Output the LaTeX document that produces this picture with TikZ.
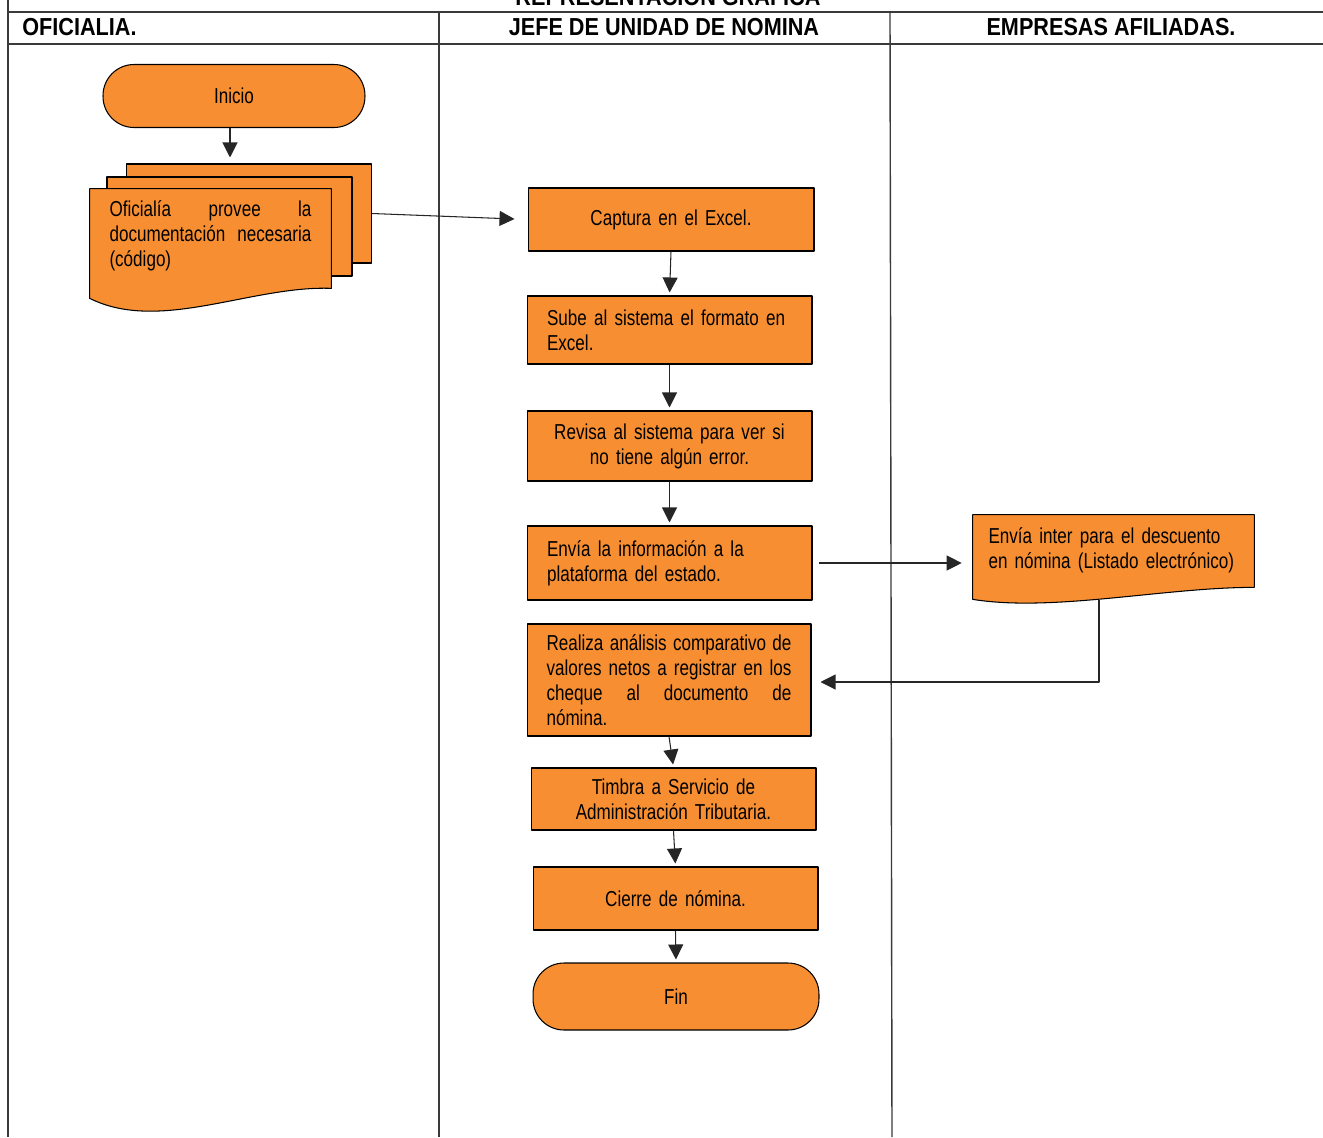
\documentclass[tikz,border=0pt]{standalone}
\usepackage{fontspec}
\setmainfont[FakeStretch=0.79]{Liberation Sans}
\newfontfamily\headfont[FakeStretch=0.88]{Liberation Sans}
\usetikzlibrary{arrows.meta,calc}
\definecolor{FlowOrange}{HTML}{F78F32}
\definecolor{FlowLine}{HTML}{3A3A3A}

\begin{document}
\begin{tikzpicture}[x=0.02cm,y=-0.02cm,line join=round,
  font=\fontsize{12.3}{14.2}\selectfont,
  lane/.style={FlowLine,line width=1.1pt},
  sep/.style={FlowLine,line width=0.8pt},
  head/.style={font=\headfont\bfseries\fontsize{14}{16}\selectfont,anchor=base,inner sep=0pt},
  procbox/.style={draw=black,fill=FlowOrange,line width=0.6pt,minimum width=5.7cm,
    text width=4.9cm,inner sep=0pt,align=center},
  termbox/.style={procbox,rounded corners=0.62cm},
  docline/.style={draw=black,fill=FlowOrange,line width=0.6pt},
  flow/.style={-{Triangle[length=0.3cm,width=0.3cm]},black!85,line width=0.6pt,shorten >=0.06cm}]
  \useasboundingbox (0,0) rectangle (1323,1137);

  % lanes
  \draw[lane] (8,0) -- (8,1137);
  \draw[lane] (8,12) -- (1323,12);
  \draw[lane] (8,44) -- (1323,44);
  \draw[sep] (439,12) -- (439,1137);
  \draw[sep] (890,12) -- (892,1137);
  \node[head] (titulo) at (668,5) {REPRESENTACION GRAFICA};
  \node[head,anchor=base west] (oficialia) at (22,35) {OFICIALIA.};
  \foreach \x/\lab/\nm in {664/JEFE DE UNIDAD DE NOMINA/jefe,1111/EMPRESAS AFILIADAS./empresas}
    \node[head] (\nm) at (\x,35) {\lab};

  % oficialia
  \node[termbox,minimum width=5.24cm,minimum height=1.26cm] (inicio) at (234,96) {Inicio};
  \node[procbox,minimum width=4.84cm,minimum height=1.98cm] (hoja3) at (249,213.5) {};
  \node[procbox,minimum width=4.78cm,minimum height=1.98cm] (hoja2) at (229.5,226.5) {};
  \node[minimum width=4.82cm,minimum height=1.98cm,inner sep=0pt] (oficio) at (210.5,238.5) {};
  \draw[docline] (oficio.north west) -- (oficio.north east) -- (oficio.south east)
    .. controls ($(oficio.south east)+(-80,-3)$) and ($(oficio.south west)+(70,45)$)
    .. ($(oficio.south west)+(0,10)$) -- cycle;
  \node[text width=4.04cm,align=justify,inner sep=0pt] (oficiotxt) at ($(oficio)+(0,-3)$)
    {Oficialía provee la\linebreak documentación necesaria\linebreak (código)};

  % jefe de unidad
  \node[procbox,minimum width=5.72cm,minimum height=1.26cm] (captura) at (671,219.5) {Captura en el Excel.};
  \node[procbox,minimum height=1.36cm,align=left] (sube) at (669.5,330) {Sube al sistema el formato en\\Excel.};
  \node[procbox,minimum height=1.4cm] (revisa) at (669.5,446) {Revisa al sistema para ver si\\no tiene algún error.};
  \node[procbox,minimum height=1.48cm,align=left] (envia) at (669.5,563) {Envía la información a la\\plataforma del estado.};
  \node[procbox,minimum width=5.68cm,minimum height=2.24cm,align=justify] (realiza) at (669,680)
    {Realiza análisis comparativo de\linebreak valores netos a registrar en los\linebreak cheque al documento de\linebreak nómina.};
  \node[procbox,minimum height=1.24cm] (timbra) at (673.5,799) {Timbra a Servicio de\\Administración Tributaria.};
  \node[procbox,minimum height=1.26cm] (cierre) at (675.5,898.5) {Cierre de nómina.};
  \node[termbox,minimum width=5.72cm,minimum height=1.34cm] (fin) at (676,996.5) {Fin};

  % empresas afiliadas
  \node[minimum width=5.62cm,minimum height=1.44cm,inner sep=0pt] (inter) at (1113.5,551) {};
  \draw[docline] (inter.north west) -- (inter.north east) -- (inter.south east)
    .. controls ($(inter.south east)+(-90,0)$) and ($(inter.south west)+(80,25)$)
    .. ($(inter.south west)+(0,12)$) -- cycle;
  \node[text width=5cm,align=left,inner sep=0pt] (intertxt) at ($(inter)+(0,-1)$)
    {Envía inter para el descuento\\en nómina (Listado electrónico)};
  \coordinate (codo) at (1099,682);

  % connectors
  \draw[flow,shorten >=0.12cm] ($(inicio.south)+(-4,0)$) -- ($(inicio.south |- hoja3.north)+(-4,0)$);
  \draw[flow,shorten >=0.26cm] (hoja3.east) -- (captura.west);
  \foreach \a/\b in {captura/sube,sube/revisa,revisa/envia,realiza/timbra,timbra/cierre,cierre/fin}
    \draw[flow] (\a.south) -- (\b.north);
  \draw[flow,shorten <=0.12cm,shorten >=0.22cm] (envia.east) -- (envia.east -| inter.west);
  \draw[flow,shorten >=0.18cm] ($(inter.south -| codo)+(0,13)$) -- (codo) -- (codo -| realiza.east);
\end{tikzpicture}
\end{document}
